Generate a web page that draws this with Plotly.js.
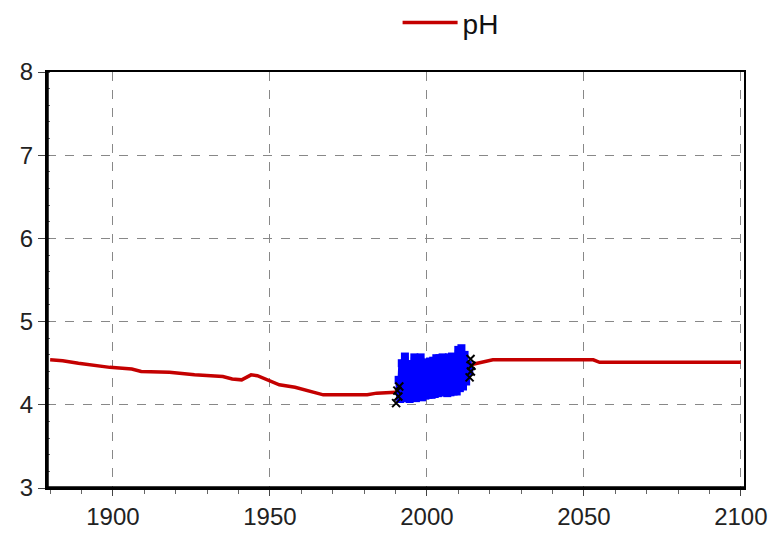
<!DOCTYPE html>
<html>
<head>
<meta charset="utf-8">
<script src="https://cdn.plot.ly/plotly-3.0.1.min.js"></script>
<style>html,body{margin:0;padding:0;background:#fff;}#chart{width:776px;height:535px;}</style>
</head>
<body>
<div id="chart"></div>
<script>
// Modelled pH (red line)
var modelYear = [1880, 1884, 1889, 1895, 1899, 1906, 1909, 1918, 1922, 1926, 1935, 1938, 1941, 1944, 1946, 1949, 1953, 1958, 1962, 1967, 1981, 1984, 1990, 2000, 2010, 2015, 2021, 2053, 2055, 2100];
var modelPH   = [4.54, 4.53, 4.50, 4.47, 4.45, 4.43, 4.40, 4.39, 4.37, 4.36, 4.34, 4.31, 4.30, 4.36, 4.35, 4.30, 4.24, 4.21, 4.17, 4.12, 4.12, 4.14, 4.15, 4.30, 4.45, 4.49, 4.54, 4.54, 4.51, 4.51];

// Observed pH (blue)
var obsYear = [1991.0, 1991.5, 1992.0, 1992.5, 1993.0, 1993.5, 1994.0, 1994.5, 1995.0, 1995.5, 1996.0, 1996.5, 1997.0, 1997.5, 1998.0, 1998.5, 1999.0, 1999.5, 2000.0, 2000.5, 2001.0, 2001.5, 2002.0, 2002.5, 2003.0, 2003.5, 2004.0, 2004.5, 2005.0, 2005.5, 2006.0, 2006.5, 2007.0, 2007.5, 2008.0, 2008.5, 2009.0, 2009.5, 2010.0, 2010.5, 2011.0, 2011.5, 2012.0, 2012.5, 2013.0, 2013.5];
var obsPH   = [4.30, 4.07, 4.50, 4.09, 4.58, 4.08, 4.48, 4.07, 4.49, 4.09, 4.57, 4.08, 4.49, 4.10, 4.57, 4.09, 4.50, 4.11, 4.51, 4.12, 4.52, 4.12, 4.53, 4.13, 4.56, 4.14, 4.56, 4.15, 4.57, 4.15, 4.56, 4.14, 4.57, 4.15, 4.58, 4.16, 4.57, 4.16, 4.66, 4.20, 4.68, 4.22, 4.60, 4.28, 4.48, 4.40];

// Outlying observations (black crosses)
var edgeYear = [1990.2, 1990.6, 1990.9, 1991.2, 2013.6, 2014.0, 2014.2, 2013.9];
var edgePH   = [4.02, 4.17, 4.10, 4.22, 4.33, 4.40, 4.47, 4.55];

var xTicks = [1900, 1950, 2000, 2050, 2100];
var yTicks = [3, 4, 5, 6, 7, 8];

var tickFont = {family: '"Liberation Sans Narrow", "Liberation Sans", Arial, sans-serif', size: 24, color: '#222'};

var traces = [
  {x: modelYear, y: modelPH, type: 'scatter', mode: 'lines', name: 'pH',
   line: {color: '#c40000', width: 3.5}},
  {x: obsYear, y: obsPH, type: 'scatter', mode: 'lines+markers', showlegend: false,
   line: {color: '#0000ff', width: 7}, marker: {color: '#0000ff', symbol: 'square', size: 8}},
  {x: edgeYear, y: edgePH, type: 'scatter', mode: 'markers', showlegend: false,
   marker: {color: '#000', symbol: 'x-thin', size: 8, line: {color: '#000', width: 2}}}
];

var layout = {
  width: 776, height: 535,
  margin: {l: 47, r: 32, t: 72, b: 47, autoexpand: false},
  paper_bgcolor: '#fff', plot_bgcolor: '#fff',
  showlegend: true,
  legend: {orientation: 'h', x: 0.503, xanchor: 'left', y: 1.118, yanchor: 'middle',
           itemwidth: 55,
           font: {family: '"Liberation Sans", Arial, sans-serif', size: 28, color: '#111'},
           bgcolor: 'rgba(0,0,0,0)'},
  xaxis: {
    range: [1879, 2101], tickvals: xTicks, ticktext: xTicks.map(String),
    showline: true, linecolor: '#000', linewidth: 2, mirror: true,
    ticks: 'outside', ticklen: 6, tickcolor: '#444', tickwidth: 1,
    showgrid: true, gridcolor: '#888', griddash: 'dash', gridwidth: 1,
    zeroline: false, tickfont: tickFont,
    minor: {dtick: 10, tick0: 1880, ticks: 'outside', ticklen: 4, tickcolor: '#666', showgrid: false}
  },
  yaxis: {
    range: [3, 8], tickvals: yTicks, ticktext: yTicks.map(String),
    showline: true, linecolor: '#000', linewidth: 2, mirror: true,
    ticks: 'outside', ticklen: 7, tickcolor: '#444', tickwidth: 1,
    showgrid: true, gridcolor: '#888', griddash: 'dash', gridwidth: 1,
    zeroline: false, tickfont: tickFont,
    minor: {dtick: 0.2, tick0: 3, ticks: 'inside', ticklen: 3, tickcolor: '#666', showgrid: false}
  },
  shapes: [
    {type: 'line', xref: 'paper', yref: 'paper', x0: 0, x1: 0, y0: 0, y1: 1, line: {color: '#000', width: 3.5}},
    {type: 'line', xref: 'paper', yref: 'paper', x0: 0, x1: 1, y0: 0, y1: 0, line: {color: '#000', width: 3.5}}
  ]
};

Plotly.newPlot('chart', traces, layout, {staticPlot: true, displayModeBar: false});
</script>
</body>
</html>
